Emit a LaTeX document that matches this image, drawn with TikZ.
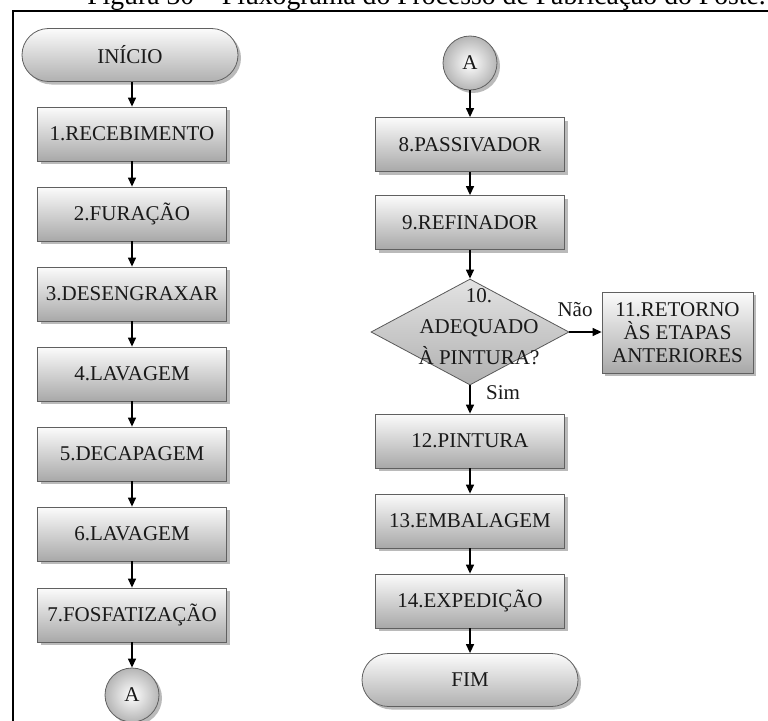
\documentclass[tikz,border=0pt]{standalone}
\usepackage{fontspec}
\setmainfont{Liberation Serif}
\usetikzlibrary{shapes.geometric,shapes.misc,arrows.meta,shadows}

\tikzset{
  x=1pt, y=-1pt,
  txt/.style={font=\fontsize{21}{23}\selectfont, text=black!90},
  dshadow/.style={drop shadow={shadow xshift=3pt, shadow yshift=-3pt, fill=gray!80!black, opacity=0.45}},
  procbox/.style={txt, rectangle, draw=gray!75!black, line width=0.8pt,
    minimum width=189pt, minimum height=54pt, inner sep=0pt,
    top color=white!97!gray, bottom color=gray!68, dshadow},
  term/.style={txt, rounded rectangle, draw=gray!75!black, line width=0.8pt,
    minimum width=216pt, minimum height=53pt, inner sep=0pt,
    top color=white!97!gray, bottom color=gray!62, dshadow},
  conn/.style={txt, circle, draw=gray!75!black, line width=0.8pt,
    minimum size=54pt, inner sep=0pt,
    shading=radial, inner color=white, outer color=gray!58, dshadow},
  decision/.style={diamond, draw=gray!70!black, line width=0.8pt,
    minimum width=198pt, minimum height=106pt, inner sep=0pt,
    top color=gray!22, bottom color=gray!62},
  flow/.style={-{Triangle[length=9pt,width=8pt]}, line width=1.3pt, black},
}

\begin{document}
\begin{tikzpicture}
\useasboundingbox (0,0) rectangle (768,720);

% caption running above the frame
\begin{scope}
  \clip (0,0) rectangle (768,10);
  \node[anchor=base east, font=\fontsize{27.7}{28}\selectfont, inner sep=0pt] (cap) at (766,5)
    {Figura 30 – Fluxograma do Processo de Fabricação do Poste.};
\end{scope}

% frame
\draw[line width=2pt] (13,730) -- (13,11) -- (780,11);

% left column
\node[term]    (ini) at (130,55)  {INÍCIO};
\node[procbox] (p1)  at (132,134) {1.RECEBIMENTO};
\node[procbox] (p2)  at (132,214) {2.FURAÇÃO};
\node[procbox] (p3)  at (132,294) {3.DESENGRAXAR};
\node[procbox] (p4)  at (132,374) {4.LAVAGEM};
\node[procbox] (p5)  at (132,454) {5.DECAPAGEM};
\node[procbox] (p6)  at (132,534) {6.LAVAGEM};
\node[procbox] (p7)  at (132,615) {7.FOSFATIZAÇÃO};
\node[conn]    (a1)  at (132,695) {A};

% right column
\node[conn]     (a2)  at (470,63)    {A};
\node[procbox]  (p8)  at (470,144.5) {8.PASSIVADOR};
\node[procbox]  (p9)  at (470,222.5) {9.REFINADOR};
\node[decision] (p10) at (470,332)   {};
\node[txt, align=center, font=\fontsize{21}{31}\selectfont, inner sep=0pt] (q10) at (479,327)
  {10.\\ADEQUADO\\À PINTURA?};
\node[procbox, minimum width=151pt, minimum height=81pt, align=center] (p11) at (677.5,332.5)
  {11.RETORNO\\ÀS ETAPAS\\ANTERIORES};
\node[procbox]  (p12) at (470,441) {12.PINTURA};
\node[procbox]  (p13) at (470,521) {13.EMBALAGEM};
\node[procbox]  (p14) at (470,601) {14.EXPEDIÇÃO};
\node[term]     (fim) at (470,680) {FIM};

% connectors
\draw[flow] (ini.south -| p1.north) -- (p1);
\draw[flow] (p1) -- (p2);
\draw[flow] (p2) -- (p3);
\draw[flow] (p3) -- (p4);
\draw[flow] (p4) -- (p5);
\draw[flow] (p5) -- (p6);
\draw[flow] (p6) -- (p7);
\draw[flow] (p7) -- (a1);

\draw[flow] (a2) -- (p8);
\draw[flow] (p8) -- (p9);
\draw[flow] (p9) -- (p10);
\draw[flow] (p10.east) -- (p11.west |- p10.east);
\draw[flow] (p10) -- (p12);
\draw[flow] (p12) -- (p13);
\draw[flow] (p13) -- (p14);
\draw[flow] (p14) -- (fim);

% branch labels
\node[txt] (nao) at (575,310) {Não};
\node[txt] (sim) at (503,393) {Sim};
\end{tikzpicture}
\end{document}
